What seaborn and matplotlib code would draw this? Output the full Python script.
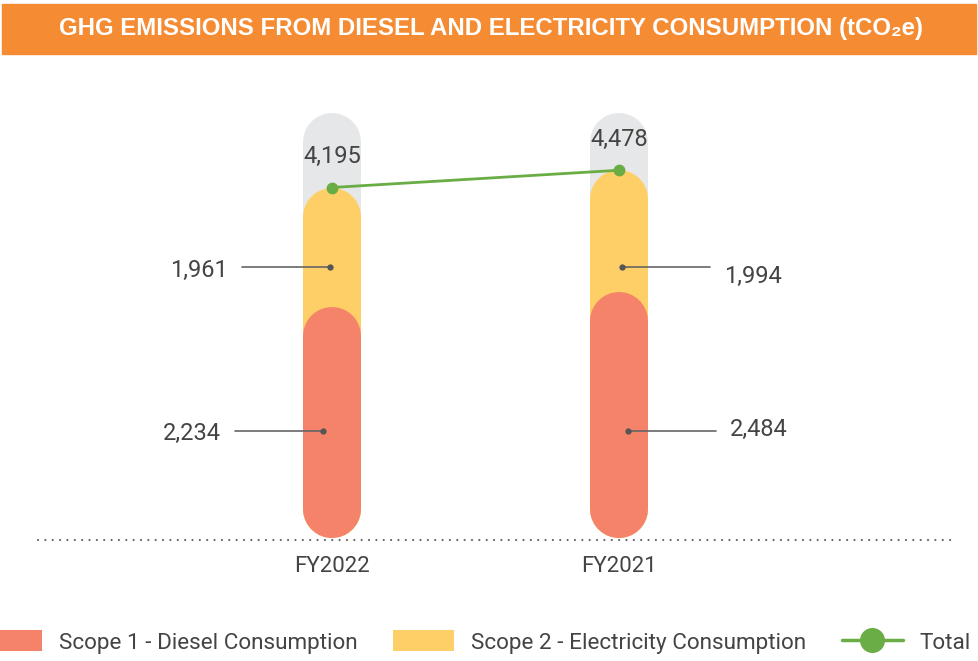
"""
GHG emissions from diesel and electricity consumption (tCO2e)
Stacked capsule bars with a total line, recreated with seaborn/matplotlib.
"""

import matplotlib
matplotlib.use("Agg")
import matplotlib.pyplot as plt
from matplotlib.patches import Patch, Rectangle
from matplotlib.lines import Line2D
import seaborn as sns

# ---- data -------------------------------------------------------------
years = ["FY2022", "FY2021"]
scope1_diesel = [2234, 2484]
scope2_electricity = [1961, 1994]
total = [4195, 4478]

# ---- style ------------------------------------------------------------
sns.set_theme(style="white")
plt.rcParams["font.family"] = ["Roboto", "DejaVu Sans"]

RED = "#F4836A"
YELLOW = "#FECF67"
GREY = "#E6E7E8"
GREEN = "#6AAD45"
ORANGE = "#F58C33"
TEXT = "#444444"
LEADER = "#666666"
WEIGHT = "normal"

W, H, DPI = 979, 661, 100
PX_PER_UNIT = 0.061      # vertical pixels per tCO2e
BASE_PX = 443.4          # pixel row (from top) of value 0
X0_PX, X_STEP_PX = 332, 287


def val(py):
    """pixel row (from top) -> data value"""
    return (BASE_PX - py) / PX_PER_UNIT


def xval(px):
    return (px - X0_PX) / X_STEP_PX


FLOOR = val(538)         # bottom of capsules
BG_TOP = val(113)        # top of grey background capsule
BAR_PX = 58
RADIUS = (BAR_PX / 2) / PX_PER_UNIT

fig = plt.figure(figsize=(W / DPI, H / DPI), dpi=DPI)
ax = fig.add_axes([0, 0, 1, 1])

# bars via seaborn, then turned into rounded capsules
layers = [
    ([BG_TOP, BG_TOP], GREY, 1),
    (total, YELLOW, 2),
    (scope1_diesel, RED, 3),
]
for values, color, z in layers:
    n_before = len(ax.patches)
    sns.barplot(x=years, y=values, order=years, color=color, ax=ax)
    for p in list(ax.patches[n_before:]):
        xc = p.get_x() + p.get_width() / 2
        top = p.get_height()
        p.remove()
        ax.plot([xc, xc], [FLOOR + RADIUS, top - RADIUS], color=color,
                linewidth=BAR_PX * 72 / DPI, solid_capstyle="round", zorder=z)

# total line
xs = list(range(len(years)))
ax.plot(xs, total, color=GREEN, linewidth=2, marker="o", markersize=7.5,
        zorder=5)
for x, t in zip(xs, total):
    ax.annotate(f"{t:,}", (x, t), xytext=(0, 22), textcoords="offset points",
                ha="center", va="center", fontsize=17, color=TEXT,
                fontweight=WEIGHT, zorder=6)

# segment labels with leader lines (dot row, text nudge in px)
seg_row = {"FY2022": (431, 267), "FY2021": (431, 267)}
seg_nudge = {"FY2022": (2, 3), "FY2021": (-2, 9)}
dot_px = {"FY2022": (323, 330), "FY2021": (628, 622)}
for i, yr in enumerate(years):
    side = -1 if i == 0 else 1
    for j, v in enumerate([scope1_diesel[i], scope2_electricity[i]]):
        yy = val(seg_row[yr][j])
        xd = xval(dot_px[yr][j])
        xe = xd + side * 88 / X_STEP_PX
        ax.plot([xd, xe], [yy, yy], color=LEADER, linewidth=1.2, zorder=6)
        ax.plot(xd, yy, "o", color="#555555", markersize=3.5, zorder=7)
        ax.text(xe + side * 14 / X_STEP_PX, val(seg_row[yr][j] + seg_nudge[yr][j]),
                f"{v:,}", ha="right" if side < 0 else "left", va="center",
                fontsize=17, color=TEXT, fontweight=WEIGHT, zorder=7)

# dotted baseline and category labels
ax.plot([xval(38), xval(952)], [val(540), val(540)], linestyle=(0, (0.01, 3.3)),
        color="#666666", linewidth=1.6, dash_capstyle="round", zorder=1)
for i, yr in enumerate(years):
    ax.text(i, val(567), yr, ha="center", va="center", fontsize=16,
            color=TEXT, fontweight=WEIGHT)

ax.set_xlim(xval(0), xval(W))
ax.set_ylim(val(H), val(0))
ax.set_axis_off()

# header banner
fig.patches.append(Rectangle((2 / W, 1 - 54 / H), 974 / W, 50 / H,
                             transform=fig.transFigure, color=ORANGE, zorder=0))
fig.text(0.5 * (57 + 925) / W, 1 - 29 / H,
         "GHG EMISSIONS FROM DIESEL AND ELECTRICITY CONSUMPTION (tCO₂e)",
         ha="center", va="center", color="white", fontsize=17.3,
         fontweight="bold", family=["Liberation Sans", "DejaVu Sans"])

# legend
handles = [
    Patch(facecolor=RED, edgecolor="none"),
    Patch(facecolor=YELLOW, edgecolor="none"),
    Line2D([0], [0], color=GREEN, linewidth=2.5, marker="o", markersize=17),
]
labels = ["Scope 1 - Diesel Consumption", "Scope 2 - Electricity Consumption",
          "Total"]
fig.legend(handles, labels, loc="center", bbox_to_anchor=(476 / W, 1 - 642 / H),
           ncol=3, frameon=False, handlelength=2.7,
           handleheight=1.05, handletextpad=0.75, columnspacing=1.6,
           labelcolor=TEXT, prop={"weight": WEIGHT, "size": 16.2})

fig.savefig("out.png", dpi=DPI)
